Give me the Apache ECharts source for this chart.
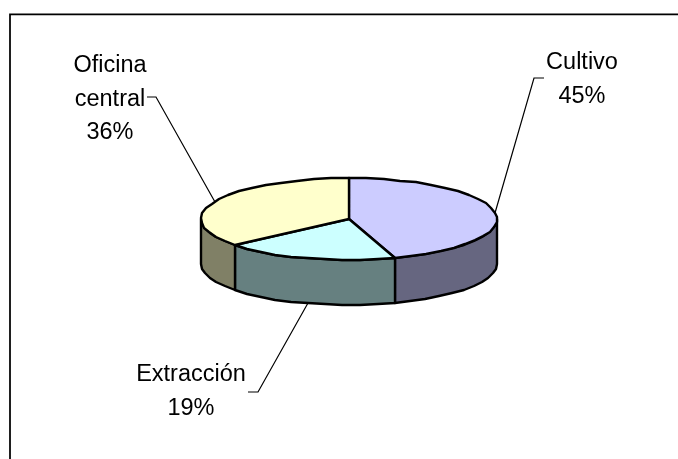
<!DOCTYPE html>
<html>
<head>
<meta charset="utf-8">
<style>html,body{margin:0;padding:0;background:#fff}#chart{width:678px;height:459px}</style>
<script src="https://cdn.jsdelivr.net/npm/echarts@6/dist/echarts.min.js"></script>
</head>
<body>
<div id="chart"></div>
<script>
// Share of activity by area, in percent, clockwise from twelve o'clock.
var categories = ['Cultivo', 'Extracción', 'Oficina\ncentral'];
var shares = [45, 19, 36];
var topColors = ['#CCCCFF', '#CCFFFF', '#FFFFCC'];
var wallColors = ['#666680', '#668080', '#808066'];

// Disc projection and label placement.
var disc = { cx: 349, cy: 219, rx: 148, ry: 41, depth: 45 };
var labelBoxes = [
  { x: 582, y: 63, elbow: [[544, 78], [534, 78]] },
  { x: 191, y: 375, elbow: [[248, 392], [258, 392]] },
  { x: 110, y: 66, elbow: [[147, 97], [156, 97]] }
];
var fontFamily = '"Liberation Sans", Arial, sans-serif';
var lineGap = 33.5;

var total = shares.reduce(function (a, b) { return a + b; }, 0);

function rimPoint(deg, drop) {
  var t = deg * Math.PI / 180;
  return [
    Math.round(disc.cx + disc.rx * Math.sin(t)),
    Math.round(disc.cy - disc.ry * Math.cos(t) + (drop || 0))
  ];
}
// The rim is a coarse polyline snapped to whole pixels, which gives it a stepped outline.
function arc(from, to, drop) {
  var pts = [];
  var n = Math.max(1, Math.ceil(Math.abs(to - from) / 7));
  for (var i = 0; i <= n; i++) pts.push(rimPoint(from + (to - from) * i / n, drop));
  return pts;
}

function renderSlice(params, api) {
  var i = params.dataIndex;
  var before = 0;
  for (var k = 0; k < i; k++) before += shares[k];
  var start = before / total * 360;
  var end = (before + api.value(0)) / total * 360;
  var mid = (start + end) / 2;
  var children = [];

  // Only the part of the rim facing the viewer gets a wall.
  var wStart = Math.max(start, 90), wEnd = Math.min(end, 270);
  if (wEnd > wStart) {
    children.push({
      type: 'polygon',
      shape: { points: arc(wStart, wEnd, 0).concat(arc(wEnd, wStart, disc.depth)) },
      style: { fill: wallColors[i], stroke: '#000', lineWidth: 2.4, lineJoin: 'round' }
    });
  }
  children.push({
    type: 'polygon',
    z2: 5,
    shape: { points: [[disc.cx, disc.cy]].concat(arc(start, end, 0)) },
    style: { fill: topColors[i], stroke: '#000', lineWidth: 2.4, lineJoin: 'round' }
  });

  // Leader from the rim at the slice's middle angle to its label.
  var box = labelBoxes[i];
  var visibleDrop = mid > 90 && mid < 270 && i === 1 ? disc.depth : 0;
  children.push({
    type: 'polyline',
    z2: 6,
    shape: { points: box.elbow.concat([rimPoint(mid, visibleDrop)]) },
    style: { fill: 'none', stroke: '#000', lineWidth: 1.2 }
  });

  var lines = categories[i].split('\n').concat([api.value(0) + '%']);
  lines.forEach(function (line, j) {
    children.push({
      type: 'text',
      z2: 7,
      style: {
        x: box.x, y: box.y + j * lineGap, text: line,
        fill: '#000', font: '23.5px ' + fontFamily,
        align: 'center', verticalAlign: 'middle'
      }
    });
  });
  return { type: 'group', children: children };
}

var chart = echarts.init(document.getElementById('chart'), null, { renderer: 'canvas' });
chart.setOption({
  animation: false,
  backgroundColor: '#fff',
  graphic: [{
    type: 'polyline', silent: true,
    shape: { points: [[10, 459], [10, 14.25], [678, 14.25]] },
    style: { fill: 'none', stroke: '#000', lineWidth: 1.75 }
  }],
  series: [{
    type: 'custom',
    coordinateSystem: 'none',
    silent: true,
    renderItem: renderSlice,
    data: shares.map(function (v) { return [v]; })
  }]
});
</script>
</body>
</html>
